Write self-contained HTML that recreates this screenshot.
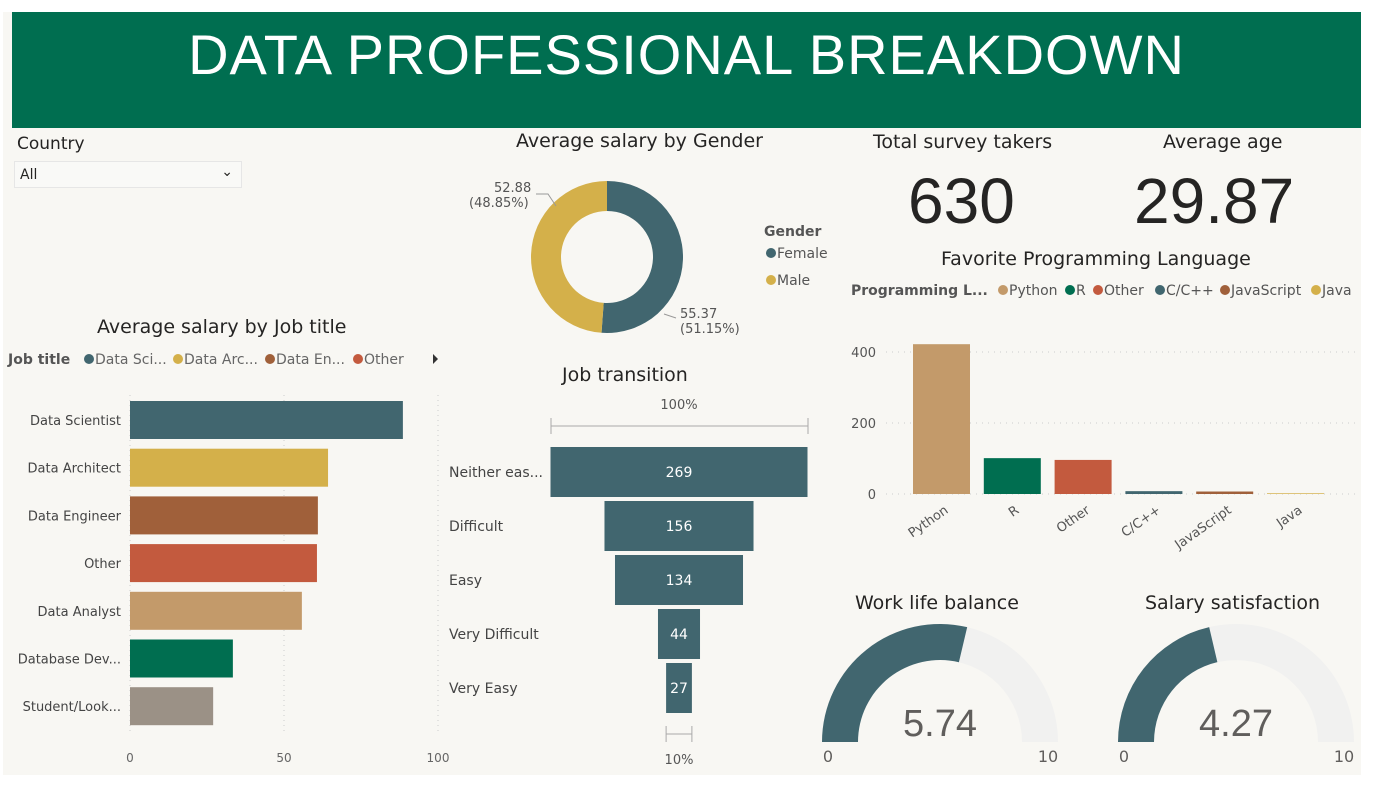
<!DOCTYPE html>
<html><head><meta charset="utf-8"><style>
body{margin:0;width:1373px;height:797px;background:#fff;font-family:"DejaVu Sans","Liberation Sans",sans-serif;overflow:hidden;position:relative}
#page{position:absolute;left:3px;top:12px;width:1358px;height:763px;background:#f8f7f3}
#hdr{position:absolute;left:12px;top:12px;width:1349px;height:116px;background:#006e50;color:#fff;font-family:"Liberation Sans",sans-serif;font-size:56px;text-align:center;line-height:86px;letter-spacing:1px}
.t{position:absolute;color:#252423;font-size:19px;white-space:nowrap}
svg{position:absolute;left:0;top:0}
</style></head><body>
<div id="page"></div>
<div id="hdr">DATA PROFESSIONAL BREAKDOWN</div>
<div class="t" style="left:17px;top:134px;font-size:17px">Country</div>
<div style="position:absolute;left:14px;top:161px;width:226px;height:25px;border:1px solid #e6e6e6;background:#f9f9f7;font-size:14px;line-height:26px;text-indent:5px;color:#252423">All<span style="position:absolute;right:8px;top:-3px;font-size:14px">&#8964;</span></div>
<div class="t" style="left:97px;top:316px">Average salary by Job title</div>
<div class="t" style="left:516px;top:130px">Average salary by Gender</div>
<div class="t" style="left:562px;top:364px">Job transition</div>
<div class="t" style="left:873px;top:131px">Total survey takers</div>
<div class="t" style="left:1163px;top:131px">Average age</div>
<div class="t" style="left:908px;top:164px;font-size:64px;font-family:'Liberation Sans',sans-serif">630</div>
<div class="t" style="left:1134px;top:164px;font-size:64px;font-family:'Liberation Sans',sans-serif">29.87</div>
<div class="t" style="left:941px;top:248px">Favorite Programming Language</div>
<div class="t" style="left:855px;top:592px">Work life balance</div>
<div class="t" style="left:1145px;top:592px">Salary satisfaction</div>
<svg id="s" width="1373" height="797" font-family="DejaVu Sans, Liberation Sans, sans-serif"></svg>
<script>
const jobCats=["Data Scientist","Data Architect","Data Engineer","Other","Data Analyst","Database Dev...","Student/Look..."];
const jobVals=[88.6,64.3,61,60.7,55.8,33.4,27];
const jobTicks=[0,50,100];
const genderCats=["Female","Male"];
const genderVals=[55.37,52.88];
const funnelCats=["Neither eas...","Difficult","Easy","Very Difficult","Very Easy"];
const funnelVals=[269,156,134,44,27];
const langCats=["Python","R","Other","C/C++","JavaScript","Java"];
const langVals=[422,101,96,8,7,2];
const langTicks=[0,200,400];
const gaugeVals=[5.74,4.27];
const gaugeMax=10;

const S=document.getElementById('s');const NS='http://www.w3.org/2000/svg';
function el(tag,at,name,txt){const e=document.createElementNS(NS,tag);for(const k in at)e.setAttribute(k,at[k]);


if(txt!==undefined)e.textContent=txt;S.appendChild(e);return e;}
const jobColors=["#41666f","#d4b04a","#a0603a","#c35a3e","#c39a6a","#006e50","#9b9186"];
// legend job
el('text',{x:8,y:364,'font-size':14,'font-weight':'bold',fill:'#555'},'job-legend-title','Job title');
[["Data Sci...",83],["Data Arc...",172],["Data En...",264],["Other",352]].forEach((d,i)=>{
el('circle',{cx:d[1]+6,cy:359,r:5,fill:jobColors[i]},'job-legend-dot');
el('text',{x:d[1]+12,y:364,'font-size':14,fill:'#666'},'job-legend-entry',d[0]);});
el('path',{d:'M433,354 L438,359 L433,364 Z',fill:'#333'},'legend-next-arrow');
// job bars
const jx=v=>130+v*3.08;
jobTicks.forEach(t=>{el('line',{x1:jx(t),x2:jx(t),y1:395,y2:735,stroke:'#ccc','stroke-dasharray':'1,4'},'x-gridline');
el('text',{x:jx(t),y:762,'font-size':12,fill:'#666','text-anchor':'middle'},'x-tick-label',t);});
jobCats.forEach((c,i)=>{const cy=420+i*47.7;
el('rect',{x:jx(0),y:cy-19,width:jx(jobVals[i])-jx(0),height:38,fill:jobColors[i]},'job-bar');
el('text',{x:121,y:cy+5,'font-size':13,fill:'#444','text-anchor':'end'},'job-category-label',c);});
// donut
const cx=607,cy=257,ro=76,ri=46;const tot=genderVals.reduce((a,b)=>a+b);let a0=-Math.PI/2;
const gc=["#41666f","#d4b04a"];
genderVals.forEach((v,i)=>{const a1=a0+v/tot*2*Math.PI;const L=(a1-a0)>Math.PI?1:0;
const p=(r,a)=>(cx+r*Math.cos(a))+','+(cy+r*Math.sin(a));
el('path',{d:`M${p(ro,a0)} A${ro},${ro} 0 ${L} 1 ${p(ro,a1)} L${p(ri,a1)} A${ri},${ri} 0 ${L} 0 ${p(ri,a0)} Z`,fill:gc[i]},'donut-slice-'+genderCats[i].toLowerCase());a0=a1;});
el('text',{x:680,y:318,'font-size':13,fill:'#555'},'female-value-label',genderVals[0].toFixed(2));
el('text',{x:680,y:333,'font-size':13,fill:'#555'},'female-pct-label','('+(genderVals[0]/tot*100).toFixed(2)+'%)');
el('text',{x:494,y:192,'font-size':13,fill:'#555'},'male-value-label',genderVals[1].toFixed(2));
el('text',{x:469,y:207,'font-size':13,fill:'#555'},'male-pct-label','('+(genderVals[1]/tot*100).toFixed(2)+'%)');
el('polyline',{points:'536,194 548,194 556,206',fill:'none',stroke:'#999'},'leader-line');
el('polyline',{points:'664,314 676,318',fill:'none',stroke:'#999'},'leader-line');
el('text',{x:764,y:236,'font-size':14,'font-weight':'bold',fill:'#555'},'gender-legend-title','Gender');
genderCats.forEach((g,i)=>{el('circle',{cx:771,cy:253+i*27,r:5,fill:gc[i]},'gender-legend-dot');
el('text',{x:777,y:258+i*27,'font-size':14,fill:'#555'},'gender-legend-entry',g);});
// funnel
const fx=679,fs=257/funnelVals[0];
el('text',{x:fx,y:409,'font-size':13,fill:'#555','text-anchor':'middle'},'funnel-top-pct','100%');
el('path',{d:'M551,418 V434 M551,426 H808 M808,418 V434',stroke:'#aaa',fill:'none'},'funnel-top-bracket');
funnelCats.forEach((c,i)=>{const y=472+i*54,w=funnelVals[i]*fs;
el('rect',{x:fx-w/2,y:y-25,width:w,height:50,fill:'#41666f'},'funnel-bar');
el('text',{x:fx,y:y+5,'font-size':14,fill:'#fff','text-anchor':'middle'},'funnel-value',funnelVals[i]);
el('text',{x:449,y:y+5,'font-size':14,fill:'#444'},'funnel-category-label',c);});
const lw=funnelVals[funnelVals.length-1]*fs;
el('path',{d:`M${fx-lw/2},726 V742 M${fx-lw/2},734 H${fx+lw/2} M${fx+lw/2},726 V742`,stroke:'#aaa',fill:'none'},'funnel-bottom-bracket');
el('text',{x:fx,y:764,'font-size':13,fill:'#555','text-anchor':'middle'},'funnel-bottom-pct',Math.round(funnelVals[funnelVals.length-1]/funnelVals[0]*100)+'%');
// lang legend
const lc=["#c39a6a","#006e50","#c35a3e","#41666f","#a0603a","#d4b04a"];
el('text',{x:851,y:295,'font-size':14,'font-weight':'bold',fill:'#555'},'lang-legend-title','Programming L...');
[1003,1070,1098,1160,1225,1316].forEach((x,i)=>{el('circle',{cx:x,cy:290,r:5,fill:lc[i]},'lang-legend-dot');
el('text',{x:x+6,y:295,'font-size':14,fill:'#555'},'lang-legend-entry',langCats[i]);});
const ly=v=>494-v*0.355;
langTicks.forEach(t=>{el('line',{x1:886,x2:1355,y1:ly(t),y2:ly(t),stroke:'#ccc','stroke-dasharray':'1,5'},'y-gridline');
el('text',{x:876,y:ly(t)+5,'font-size':13,fill:'#555','text-anchor':'end'},'y-tick-label',t);});
langCats.forEach((c,i)=>{const x=913+i*70.8;
el('rect',{x:x,y:ly(langVals[i]),width:57,height:ly(0)-ly(langVals[i]),fill:lc[i]},'lang-bar');
el('text',{x:x+36,y:512,'font-size':13,fill:'#555','text-anchor':'end',transform:`rotate(-35 ${x+36} 512)`},'lang-category-label',c);});
// gauges
[[940,"work-life"],[1236,"salary"]].forEach((g,i)=>{const gx=g[0],gy=742,R=118,r=82;
const p=(rr,a)=>(gx-rr*Math.cos(a))+','+(gy-rr*Math.sin(a));
const arc=(a1,col,nm)=>el('path',{d:`M${p(R,0)} A${R},${R} 0 0 1 ${p(R,a1)} L${p(r,a1)} A${r},${r} 0 0 0 ${p(r,0)} Z`,fill:col},nm);
arc(Math.PI,'#f1f1f0',g[1]+'-gauge-track');arc(Math.PI*gaugeVals[i]/gaugeMax,'#41666f',g[1]+'-gauge-fill');
el('text',{x:gx,y:gy-6,'font-size':38,fill:'#605e5c','text-anchor':'middle','font-family':'Liberation Sans Narrow, Liberation Sans, sans-serif'},g[1]+'-gauge-value',gaugeVals[i].toFixed(2));
el('text',{x:gx-R+6,y:762,'font-size':16,fill:'#605e5c','text-anchor':'middle'},g[1]+'-gauge-min','0');
el('text',{x:gx+R-10,y:762,'font-size':16,fill:'#605e5c','text-anchor':'middle'},g[1]+'-gauge-max',gaugeMax);});
</script>
</body></html>
